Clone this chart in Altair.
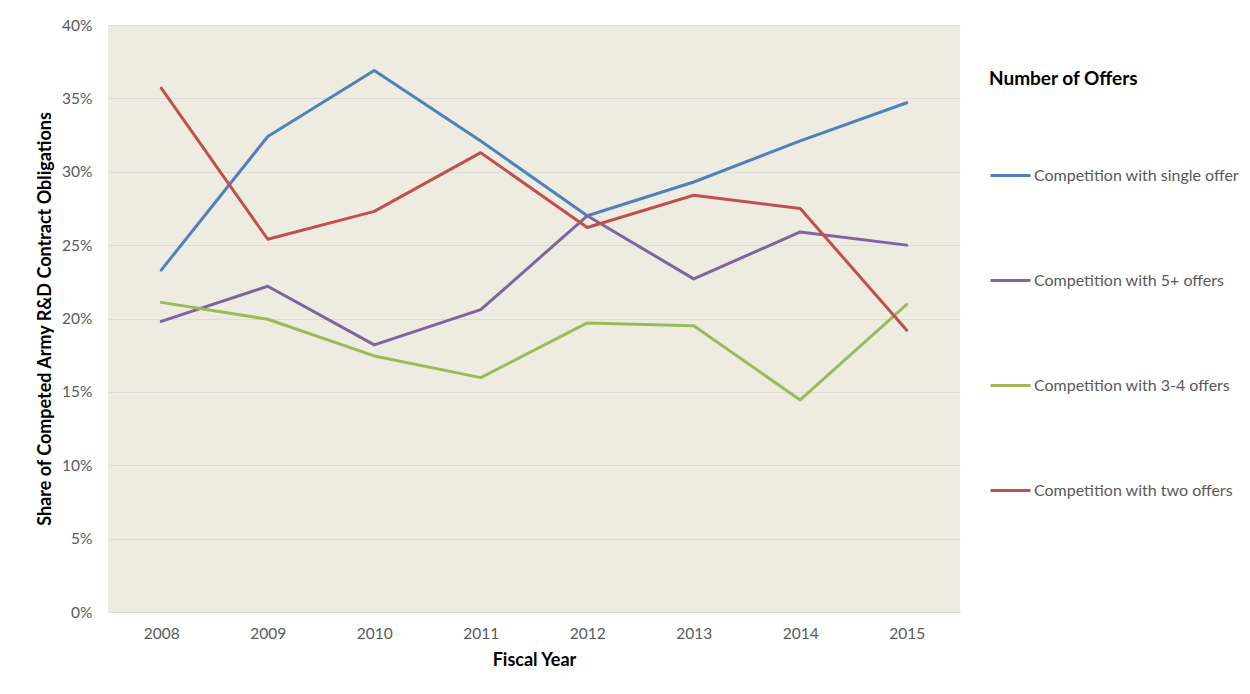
import altair as alt
import pandas as pd

years = ["2008", "2009", "2010", "2011", "2012", "2013", "2014", "2015"]
single_offer = [23.3, 32.4, 36.9, 32.1, 27.0, 29.3, 32.1, 34.7]
five_plus = [19.8, 22.2, 18.2, 20.6, 27.0, 22.7, 25.9, 25.0]
three_four = [21.1, 19.95, 17.45, 15.97, 19.7, 19.5, 14.45, 20.97]
two_offers = [35.7, 25.4, 27.3, 31.3, 26.2, 28.4, 27.5, 19.2]

series_names = [
    "Competition with single offer",
    "Competition with 5+ offers",
    "Competition with 3-4 offers",
    "Competition with two offers",
]
series_values = [single_offer, five_plus, three_four, two_offers]
colors = ["#4F81BD", "#8064A2", "#9BBB59", "#C0504D"]

rows = []
for name, vals in zip(series_names, series_values):
    for y, v in zip(years, vals):
        rows.append({"year": y, "series": name, "share": v / 100.0})
df = pd.DataFrame(rows)

FONT = "Lato"

chart = (
    alt.Chart(df)
    .mark_line(strokeWidth=3, strokeCap="round", strokeJoin="round")
    .encode(
        x=alt.X(
            "year:O",
            sort=years,
            scale=alt.Scale(type="point", padding=0.5),
            axis=alt.Axis(
                title="Fiscal Year",
                labelAngle=0,
                labelFontSize=15.5,
                labelColor="#595959",
                labelPadding=14,
                ticks=False,
                domain=True,
                domainColor="#D9D9D9",
                titleFontSize=18,
                titleFontWeight="bold",
                titleColor="#000000",
                titlePadding=10,
                grid=False,
            ),
        ),
        y=alt.Y(
            "share:Q",
            scale=alt.Scale(domain=[0, 0.4]),
            axis=alt.Axis(
                title="Share of Competed Army R&D Contract Obligations",
                format=".0%",
                values=[0, 0.05, 0.1, 0.15, 0.2, 0.25, 0.3, 0.35, 0.4],
                labelFontSize=15.5,
                labelColor="#595959",
                labelPadding=16,
                ticks=False,
                domain=False,
                grid=True,
                gridColor="#DEDCD6",
                gridWidth=1,
                titleFontSize=18,
                titleFontWeight="bold",
                titleColor="#000000",
                titleX=-54,
            ),
        ),
        color=alt.Color(
            "series:N",
            sort=series_names,
            scale=alt.Scale(domain=series_names, range=colors),
            legend=alt.Legend(
                title="Number of Offers",
                orient="none",
                legendX=881,
                legendY=45,
                titleFontSize=19,
                titleFontWeight="bold",
                titleColor="#000000",
                titlePadding=65,
                symbolType="stroke",
                symbolSize=1600,
                symbolStrokeWidth=3,
                labelFontSize=16,
                labelColor="#595959",
                labelOffset=2,
                rowPadding=75,
                labelLimit=300,
            ),
        ),
    )
    .properties(
        width=852,
        height=587,
        autosize=alt.AutoSizeParams(type="none"),
        padding={"left": 100, "top": 17, "right": 282, "bottom": 74},
    )
    .configure(font=FONT)
    .configure_view(fill="#EEECE1", stroke=None)
    .configure_axis(labelFont=FONT, titleFont=FONT)
    .configure_legend(labelFont=FONT, titleFont=FONT)
)

chart.save("out.html", embed_options={"renderer": "svg", "actions": False})
